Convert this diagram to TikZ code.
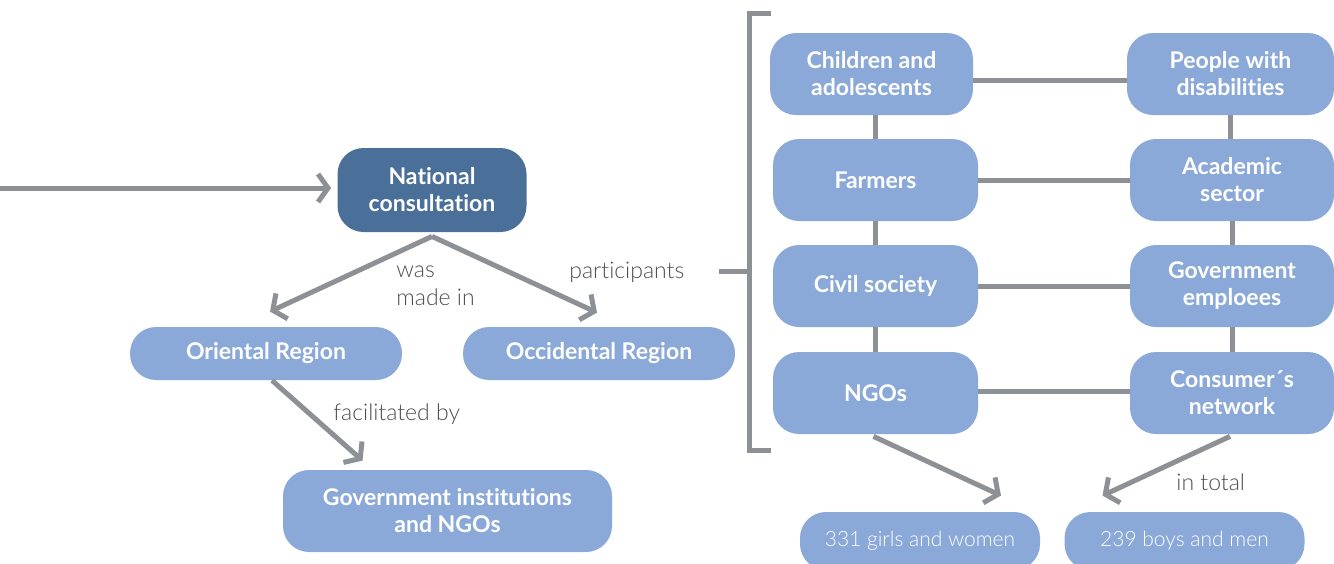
\documentclass[tikz,border=0pt]{standalone}
\usepackage{fontspec}
\setmainfont{Lato}[Ligatures=NoCommon]
\newfontfamily\lightfont{Lato Light}[Ligatures=NoCommon]
\usepackage{tikz}
\usetikzlibrary{arrows.meta, positioning}
\definecolor{darkblue}{HTML}{4A6F99}
\definecolor{lightblue}{HTML}{8BA9D8}
\definecolor{linegray}{HTML}{8D9196}
\definecolor{labelgray}{HTML}{4D4D4D}

\begin{document}
\begin{tikzpicture}[x=0.5pt, y=-0.5pt,
  box/.style={rounded corners=13pt, fill=lightblue, text=white, align=center, inner sep=0pt,
    font=\bfseries\fontsize{11.5}{13.5}\selectfont},
  topbox/.style={box, fill=darkblue},
  countbox/.style={box, font=\lightfont\fontsize{10.5}{13}\selectfont},
  lbl/.style={text=labelgray, align=left, inner sep=0pt, font=\lightfont\fontsize{11.5}{14}\selectfont},
  link/.style={draw=linegray, line width=2.5pt},
  arr/.style={link, -{Straight Barb[length=5pt, width=14pt]}}]
\useasboundingbox (0,0) rectangle (1334,563);
\node[topbox, minimum width=94.5pt, minimum height=42pt] (nat) at (432,190) {National\\consultation};
\node[box, minimum width=136pt, minimum height=26.5pt] (ori) at (266,353.5) {Oriental Region};
\node[box, minimum width=136pt, minimum height=26.5pt] (occ) at (599,353.5) {Occidental Region};
\node[box, minimum width=164.5pt, minimum height=41pt] (gov) at (447.5,511) {Government institutions\\and NGOs};
% participants
\node[box, minimum width=101.5pt, minimum height=41pt] (child) at (871.5,74) {Children and\\adolescents};
\node[box, minimum width=102.5pt, minimum height=41pt] (farm) at (875.5,180) {Farmers};
\node[box, minimum width=102.5pt, minimum height=41pt] (civ) at (875.5,286) {Civil society};
\node[box, minimum width=102.5pt, minimum height=41pt] (ngo) at (875.5,393) {NGOs};
\node[box, minimum width=103.5pt, minimum height=41pt] (dis) at (1230.5,74) {People with\\disabilities};
\node[box, minimum width=102pt, minimum height=41pt] (acad) at (1232,180) {Academic\\sector};
\node[box, minimum width=102pt, minimum height=41pt] (emp) at (1232,286) {Government\\emploees};
\node[box, minimum width=102pt, minimum height=41pt] (cons) at (1232,393) {Consumer´s\\network};
\node[countbox, minimum width=120pt, minimum height=29pt] (girls) at (920,541) {331 girls and women};
\node[countbox, minimum width=120pt, minimum height=29pt] (boys) at (1184.5,541) {239 boys and men};
% labels
\node[lbl, anchor=north west] (madein) at (396,265) {was\\made in};
\node[lbl, anchor=west] (partic) at (569,272) {participants};
\node[lbl, anchor=west] (facil) at (333,414) {facilitated by};
\node[lbl, anchor=west] (total) at (1176,482) {in total};
% connectors
\coordinate (start) at (0,188);
\draw[arr, shorten >=3pt] (start) -- (start -| nat.west);
\draw[arr] ([yshift=-2pt]nat.south) -- ([shift={(4,-15)}]ori.north);
\draw[arr] ([yshift=-2pt]nat.south) -- ([shift={(-2,-14)}]occ.north);
\draw[arr] ([xshift=3pt]ori.south) -- ([shift={(-85,-9)}]gov.north);
\draw[arr] ([shift={(-2,2)}]ngo.south) -- ([shift={(81,-16)}]girls.north);
\draw[arr] ([shift={(-2,2)}]cons.south) -- ([shift={(-82,-16)}]boys.north);
\draw[link] ([yshift=-3pt]child.east) -- ([yshift=-3pt]child.east -| dis.west);
\draw[link] (farm) -- (acad);
\draw[link] (civ) -- (emp);
\draw[link] ([yshift=1pt]ngo.east) -- ([yshift=1pt]ngo.east -| cons.west);
\draw[link] (farm.north) -- (farm.north |- child.south);
\draw[link] (farm) -- (civ) -- (ngo);
\draw[link] (dis.south) -- (dis.south |- acad.north);
\draw[link] (acad) -- (emp) -- (cons);
% bracket
\coordinate (brtop) at (771,13);
\coordinate (brbot) at (771,450);
\coordinate (brmid) at (719,271);
\draw[link] (brtop) -- (749,13) -- (749,450) -- (brbot);
\draw[link] (brmid) -- (749,271);
\end{tikzpicture}
\end{document}
